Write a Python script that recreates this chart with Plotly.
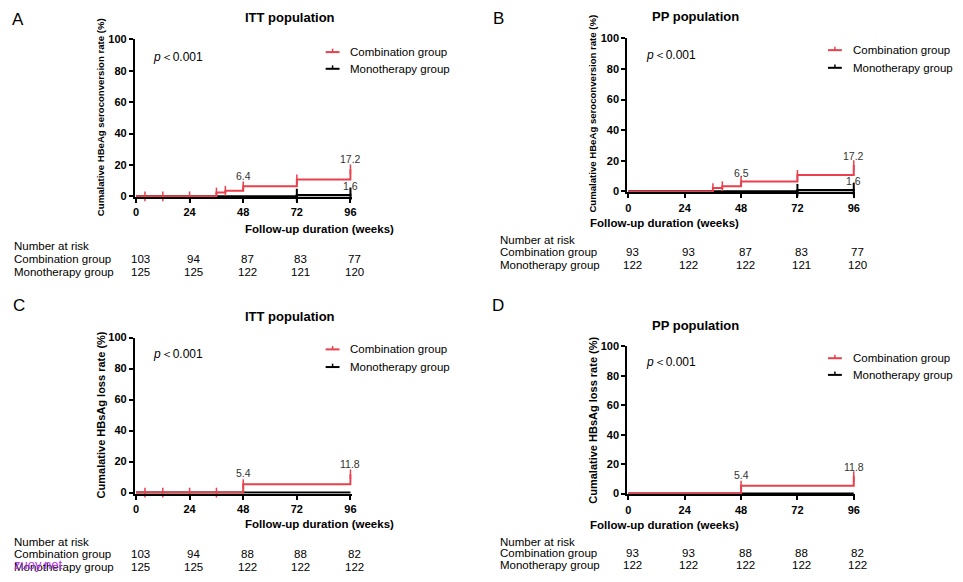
import plotly.graph_objects as go

W, H = 963, 582
RED = '#e8404c'
FONT = 'Liberation Sans, Arial, sans-serif'

weeks = [0, 24, 48, 72, 96]
yticks = [0, 20, 40, 60, 80, 100]

# A: HBeAg seroconversion, ITT
a_comb_t = [0, 36, 40, 48, 72, 96]
a_comb_y = [0, 2.4, 3.6, 6.4, 10.8, 17.2]
a_comb_cens_t = [4, 12, 24, 36, 40, 48, 72, 96]
a_comb_cens_y = [0, 0, 0, 2.4, 3.6, 6.4, 10.8, 17.2]
a_mono_t = [0, 72, 96]
a_mono_y = [0, 0.8, 1.6]
a_mono_cens_t = [72, 96]
a_mono_cens_y = [0.8, 1.6]
a_lab_txt = ['6.4', '17.2', '1.6']
a_lab_x = [48, 96, 96]
a_lab_y = [12.7, 24, 6.4]
a_risk_comb = [103, 94, 87, 83, 77]
a_risk_mono = [125, 125, 122, 121, 120]

# B: HBeAg seroconversion, PP
b_comb_t = [0, 36, 40, 48, 72, 96]
b_comb_y = [0, 2.2, 3.4, 6.5, 10.8, 17.2]
b_comb_cens_t = [36, 40, 48, 72, 96]
b_comb_cens_y = [2.2, 3.4, 6.5, 10.8, 17.2]
b_mono_t = [0, 72, 96]
b_mono_y = [0, 0.8, 1.6]
b_mono_cens_t = [72, 96]
b_mono_cens_y = [0.8, 1.6]
b_lab_txt = ['6.5', '17.2', '1.6']
b_lab_x = [48, 96, 96]
b_lab_y = [12, 23, 6.9]
b_risk_comb = [93, 93, 87, 83, 77]
b_risk_mono = [122, 122, 122, 121, 120]

# C: HBsAg loss, ITT
c_comb_t = [0, 48, 96]
c_comb_y = [0, 5.4, 11.8]
c_comb_cens_t = [4, 12, 24, 36, 48, 96]
c_comb_cens_y = [0, 0, 0, 0, 5.4, 11.8]
c_mono_t = [0, 96]
c_mono_y = [0, 0]
c_lab_txt = ['5.4', '11.8']
c_lab_x = [48, 96]
c_lab_y = [12.8, 18.5]
c_risk_comb = [103, 94, 88, 88, 82]
c_risk_mono = [125, 125, 122, 122, 122]

# D: HBsAg loss, PP
d_comb_t = [0, 48, 96]
d_comb_y = [0, 5.4, 11.8]
d_comb_cens_t = [48, 96]
d_comb_cens_y = [5.4, 11.8]
d_mono_t = [0, 96]
d_mono_y = [0, 0]
d_lab_txt = ['5.4', '11.8']
d_lab_x = [48, 96]
d_lab_y = [12.4, 18.4]
d_risk_comb = [93, 93, 88, 88, 82]
d_risk_mono = [122, 122, 122, 122, 122]

ytitle_e = 'Cumalative HBeAg seroconversion rate (%)'
ytitle_s = 'Cumalative HBsAg loss rate (%)'

panels = [
    dict(letter='A', title='ITT population', ytitle=ytitle_e, ytsize=9.6,
         comb=(a_comb_t, a_comb_y, a_comb_cens_t, a_comb_cens_y),
         mono=(a_mono_t, a_mono_y, a_mono_cens_t, a_mono_cens_y),
         labs=(a_lab_txt, a_lab_x, a_lab_y), risk=(a_risk_comb, a_risk_mono),
         px=(135, 351), py=(194, 34), letter_xy=(16, 14), title_y=12,
         ytitle_xy=(100, 113), xtitle_y=227, p_xy=(150, 52), leg_y=(47, 64),
         leg_x=326, risk_y=(245, 258, 271), risk_x=10),
    dict(letter='B', title='PP population', ytitle=ytitle_e, ytsize=9.6,
         comb=(b_comb_t, b_comb_y, b_comb_cens_t, b_comb_cens_y),
         mono=(b_mono_t, b_mono_y, b_mono_cens_t, b_mono_cens_y),
         labs=(b_lab_txt, b_lab_x, b_lab_y), risk=(b_risk_comb, b_risk_mono),
         px=(631, 858), py=(189, 33), letter_xy=(500, 13), title_y=11,
         ytitle_xy=(595, 110), xtitle_y=221, p_xy=(647, 50), leg_y=(45, 63),
         leg_x=832, risk_y=(239, 251, 264), risk_x=500),
    dict(letter='C', title='ITT population', ytitle=ytitle_s, ytsize=11,
         comb=(c_comb_t, c_comb_y, c_comb_cens_t, c_comb_cens_y),
         mono=(c_mono_t, c_mono_y, [], []),
         labs=(c_lab_txt, c_lab_x, c_lab_y), risk=(c_risk_comb, c_risk_mono),
         px=(135, 351), py=(496, 338), letter_xy=(17, 305), title_y=316,
         ytitle_xy=(100, 417), xtitle_y=528, p_xy=(150, 355), leg_y=(350, 368),
         leg_x=326, risk_y=(546, 559, 572), risk_x=10),
    dict(letter='D', title='PP population', ytitle=ytitle_s, ytsize=11,
         comb=(d_comb_t, d_comb_y, d_comb_cens_t, d_comb_cens_y),
         mono=(d_mono_t, d_mono_y, [], []),
         labs=(d_lab_txt, d_lab_x, d_lab_y), risk=(d_risk_comb, d_risk_mono),
         px=(631, 858), py=(497, 347), letter_xy=(500, 305), title_y=326,
         ytitle_xy=(595, 422), xtitle_y=529, p_xy=(647, 363), leg_y=(359, 376),
         leg_x=832, risk_y=(546, 558, 570), risk_x=500),
]

XMIN, XMAX = -0.5, 96.6
YMIN, YMAX = -0.6, 100.0


def fx(p):
    return p / W


def fy(p):
    return 1 - p / H


fig = go.Figure()
annotations = []
shapes = []
layout = {}

for i, pn in enumerate(panels):
    n = '' if i == 0 else str(i + 1)
    xa, ya = 'x' + n, 'y' + n
    # domain from pixel positions of 0 and 96 / 0 and 100
    x0p, x96p = pn['px']
    ppx = (x96p - x0p) / 96
    y0p, y100p = pn['py']
    ppy = (y0p - y100p) / 100
    layout['xaxis' + n] = dict(
        domain=[fx(x0p + XMIN * ppx), fx(x0p + XMAX * ppx)], range=[XMIN, XMAX],
        anchor=ya, tickvals=weeks, showline=True, linewidth=2, linecolor='black',
        ticks='outside', ticklen=4, tickwidth=2, tickcolor='black', showgrid=False,
        zeroline=False, fixedrange=True,
        tickfont=dict(family=FONT, size=11, color='black', weight='bold'))
    layout['yaxis' + n] = dict(
        domain=[fy(y0p - YMIN * ppy), fy(y0p - YMAX * ppy)], range=[YMIN, YMAX],
        anchor=xa, tickvals=yticks, showline=True, linewidth=2, linecolor='black',
        ticks='outside', ticklen=4, tickwidth=2, tickcolor='black', showgrid=False,
        zeroline=False, fixedrange=True,
        tickfont=dict(family=FONT, size=11, color='black', weight='bold'))

    mt, my, mct, mcy = pn['mono']
    fig.add_trace(go.Scatter(x=mt, y=my, mode='lines', line=dict(color='black', width=2.2, shape='hv'),
                             xaxis=xa, yaxis=ya, hoverinfo='skip'))
    if mct:
        fig.add_trace(go.Scatter(x=mct, y=mcy, mode='markers', cliponaxis=False,
                                 marker=dict(symbol='line-ns-open', size=9, color='black', line=dict(width=2)),
                                 xaxis=xa, yaxis=ya, hoverinfo='skip'))
    ct, cy, cct, ccy = pn['comb']
    fig.add_trace(go.Scatter(x=ct, y=cy, mode='lines', line=dict(color=RED, width=2, shape='hv'),
                             xaxis=xa, yaxis=ya, hoverinfo='skip'))
    fig.add_trace(go.Scatter(x=cct, y=ccy, mode='markers', cliponaxis=False,
                             marker=dict(symbol='line-ns-open', size=7, color=RED, line=dict(width=1.5)),
                             xaxis=xa, yaxis=ya, hoverinfo='skip'))

    txt, lx, ly = pn['labs']
    for t, x, y in zip(txt, lx, ly):
        annotations.append(dict(text=t, x=x, y=y, xref=xa, yref=ya, showarrow=False,
                                font=dict(family=FONT, size=10.5, color='#333333')))

    # panel letter and title
    lxp, lyp = pn['letter_xy']
    annotations.append(dict(text=pn['letter'], x=fx(lxp), y=fy(lyp), xref='paper', yref='paper',
                            showarrow=False, xanchor='center', yanchor='middle',
                            font=dict(family=FONT, size=17, color='black')))
    annotations.append(dict(text='<b>' + pn['title'] + '</b>', x=fx((x0p + x96p) / 2), y=fy(pn['title_y']),
                            xref='paper', yref='paper', showarrow=False, yanchor='middle',
                            font=dict(family=FONT, size=13, color='black')))
    # axis titles
    tx, ty = pn['ytitle_xy']
    annotations.append(dict(text='<b>' + pn['ytitle'] + '</b>', x=fx(tx), y=fy(ty), xref='paper',
                            yref='paper', showarrow=False, textangle=-90, xanchor='center',
                            yanchor='middle', font=dict(family=FONT, size=pn['ytsize'], color='black')))
    annotations.append(dict(text='<b>Follow-up duration (weeks)</b>', x=fx((x0p + x96p) / 2),
                            y=fy(pn['xtitle_y']), xref='paper', yref='paper', showarrow=False,
                            yanchor='middle', font=dict(family=FONT, size=11.5, color='black')))
    # p value
    px_, py_ = pn['p_xy']
    annotations.append(dict(text='<i>p</i>＜0.001', x=fx(px_), y=fy(py_), xref='paper', yref='paper',
                            showarrow=False, xanchor='left', yanchor='middle',
                            font=dict(family=FONT, size=12, color='black')))
    # legend
    lgx = pn['leg_x']
    for yy, col, name in zip(pn['leg_y'], [RED, 'black'], ['Combination group', 'Monotherapy group']):
        shapes.append(dict(type='line', xref='paper', yref='paper', x0=fx(lgx), x1=fx(lgx + 14),
                           y0=fy(yy), y1=fy(yy), line=dict(color=col, width=2)))
        shapes.append(dict(type='line', xref='paper', yref='paper', x0=fx(lgx + 7), x1=fx(lgx + 7),
                           y0=fy(yy), y1=fy(yy - 3.5), line=dict(color=col, width=1.5)))
        annotations.append(dict(text=name, x=fx(lgx + 23), y=fy(yy), xref='paper', yref='paper',
                                showarrow=False, xanchor='left', yanchor='middle',
                                font=dict(family=FONT, size=11.5, color='black')))
    # number at risk table
    ry0, ry1, ry2 = pn['risk_y']
    rc, rm = pn['risk']
    for yy, txt_ in zip([ry0, ry1, ry2], ['Number at risk', 'Combination group', 'Monotherapy group']):
        annotations.append(dict(text=txt_, x=fx(pn['risk_x']), y=fy(yy), xref='paper', yref='paper',
                                showarrow=False, xanchor='left', yanchor='middle',
                                font=dict(family=FONT, size=11.5, color='black')))
    for wk, vc, vm in zip(weeks, rc, rm):
        for yy, v in zip([ry1, ry2], [vc, vm]):
            annotations.append(dict(text=str(v), x=wk, xref=xa, xshift=4, y=fy(yy), yref='paper',
                                    showarrow=False, yanchor='middle',
                                    font=dict(family=FONT, size=11.5, color='black')))

# watermark
annotations.append(dict(text='zuoy.net', x=fx(10), y=fy(569), xref='paper', yref='paper', showarrow=False,
                        xanchor='left', yanchor='middle', font=dict(family=FONT, size=13, color='#b833f0')))

fig.update_layout(width=W, height=H, margin=dict(l=0, r=0, t=0, b=0), showlegend=False,
                  paper_bgcolor='white', plot_bgcolor='white', annotations=annotations, shapes=shapes,
                  **layout)

fig.write_html("out.html", config={'displayModeBar': False},
               post_script="document.body.style.margin='0';document.body.style.overflow='hidden';")
